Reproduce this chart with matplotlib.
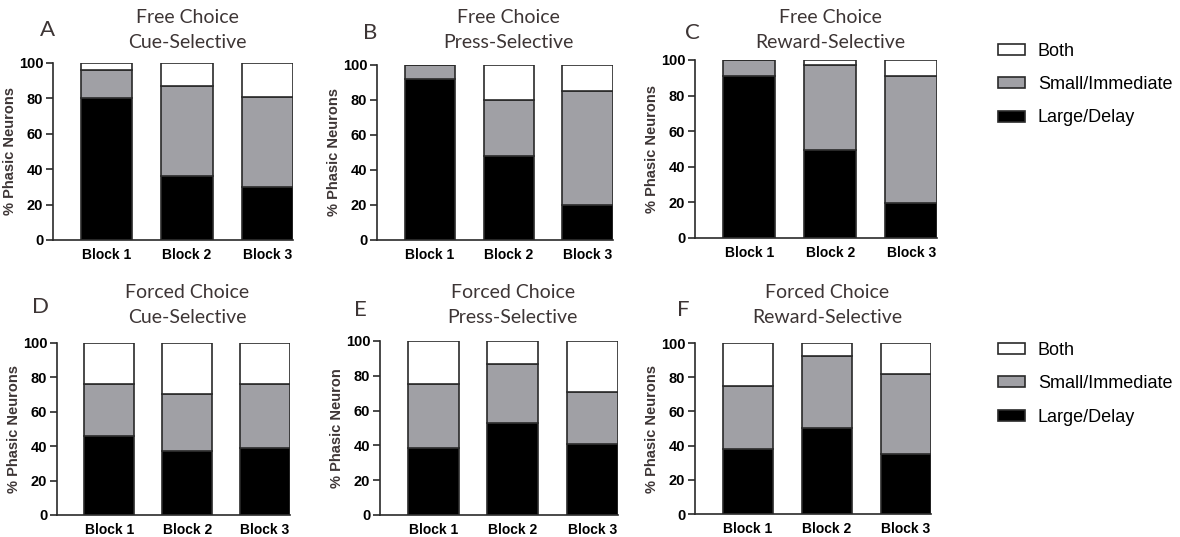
import numpy as np
import matplotlib.pyplot as plt
from matplotlib.patches import Patch
from matplotlib.transforms import blended_transform_factory

# % phasic neurons per block, split by encoding type
blocks = ['Block 1', 'Block 2', 'Block 3']

# Large/Delay share and cumulative Large+Small share for each panel
large_A = [80, 36, 30]
cum_A = [96, 87, 81]
large_B = [92, 48, 20]
cum_B = [100, 80, 85]
large_C = [91, 49.5, 19.5]
cum_C = [100, 97, 91]
large_D = [46, 37, 39]
cum_D = [76, 70.5, 76]
large_E = [38.5, 53, 41]
cum_E = [75.5, 86.5, 70.5]
large_F = [38, 50.5, 35]
cum_F = [75, 92.5, 82]

letters = ['A', 'B', 'C', 'D', 'E', 'F']
conditions = ['Free Choice'] * 3 + ['Forced Choice'] * 3
selectivity = ['Cue-Selective', 'Press-Selective', 'Reward-Selective'] * 2
ylabels = ['% Phasic Neurons'] * 4 + ['% Phasic Neuron', '% Phasic Neurons']
panel_large = [large_A, large_B, large_C, large_D, large_E, large_F]
panel_cum = [cum_A, cum_B, cum_C, cum_D, cum_E, cum_F]

GRAY = '#a0a0a5'
TXT = '#3d3535'
EDGE = '#2a2a2a'
TITLE_FONT = 'Lato'

# axes boxes [left, bottom, width, height] in figure fraction
boxes = [
    [0.0449, 0.5531, 0.2034, 0.3296],
    [0.3195, 0.5531, 0.2000, 0.3259],
    [0.5890, 0.5568, 0.2051, 0.3315],
    [0.0483, 0.0410, 0.1975, 0.3203],
    [0.3220, 0.0410, 0.2017, 0.3240],
    [0.5890, 0.0428, 0.2000, 0.3184],
]
# title / letter vertical positions (figure fraction)
title_y = [(0.968, 0.920)] * 3 + [(0.456, 0.409)] * 3
letter_pos = [(0.040, 0.944), (0.314, 0.939), (0.587, 0.939),
              (0.034, 0.428), (0.305, 0.423), (0.579, 0.423)]

fig = plt.figure(figsize=(11.8, 5.37), dpi=100)

for i in range(6):
    ax = fig.add_axes(boxes[i])
    x = np.arange(len(blocks))
    large = np.array(panel_large[i])
    cum = np.array(panel_cum[i])
    small = cum - large
    both = 100 - cum
    w = 0.64
    ax.bar(x, large, w, color='black', edgecolor=EDGE, linewidth=1.2)
    ax.bar(x, small, w, bottom=large, color=GRAY, edgecolor=EDGE, linewidth=1.2)
    ax.bar(x, both, w, bottom=cum, color='white', edgecolor=EDGE, linewidth=1.2)

    ax.set_xlim(-0.67, 2.32)
    ax.set_ylim(0, 100)
    ax.set_yticks([0, 20, 40, 60, 80, 100])
    ax.set_xticks(x)
    ax.set_xticklabels(blocks, fontsize=10, fontweight='bold', family='Liberation Sans')
    for lbl in ax.get_yticklabels():
        lbl.set_fontsize(10.5)
        lbl.set_fontweight('bold')
        lbl.set_family('Liberation Sans')
    ax.tick_params(axis='x', length=0, pad=6)
    ax.tick_params(axis='y', length=5, width=1.2, pad=2, color=EDGE)
    for s in ['top', 'right']:
        ax.spines[s].set_visible(False)
    for s in ['left', 'bottom']:
        ax.spines[s].set_linewidth(1.2)
        ax.spines[s].set_color(EDGE)
    ax.set_ylabel(ylabels[i], fontsize=10.5, fontweight='bold', family='Liberation Sans',
                  color=TXT, labelpad=1)

    # two-line title centred over the middle bar
    tr = blended_transform_factory(ax.transData, fig.transFigure)
    ax.text(1, title_y[i][0], conditions[i], transform=tr, ha='center', va='center',
            fontsize=14, family=TITLE_FONT, color=TXT)
    ax.text(1, title_y[i][1], selectivity[i], transform=tr, ha='center', va='center',
            fontsize=14, family=TITLE_FONT, color=TXT)
    fig.text(letter_pos[i][0], letter_pos[i][1], letters[i], ha='center', va='center',
             fontsize=16, family=TITLE_FONT, color=TXT)

handles = [Patch(facecolor='white', edgecolor=EDGE, linewidth=1.2),
           Patch(facecolor=GRAY, edgecolor=EDGE, linewidth=1.2),
           Patch(facecolor='black', edgecolor=EDGE, linewidth=1.2)]
labels = ['Both', 'Small/Immediate', 'Large/Delay']
for top in [0.920, 0.363]:
    fig.legend(handles, labels, loc='upper left', bbox_to_anchor=(0.8458, top),
               frameon=False, borderpad=0, borderaxespad=0, handlelength=1.5,
               handleheight=0.55, handletextpad=0.7, labelspacing=0.9,
               prop={'family': 'Liberation Sans', 'size': 13})

fig.savefig('out.png', dpi=100)
